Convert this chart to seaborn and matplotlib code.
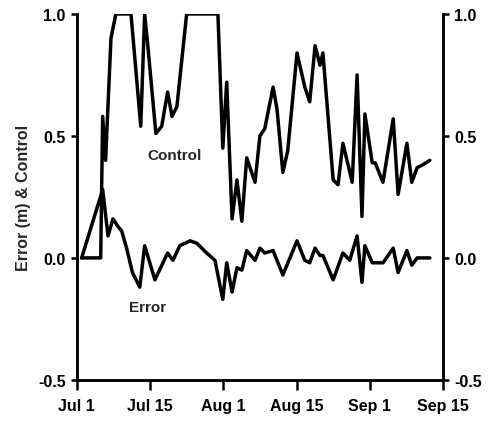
import matplotlib
matplotlib.use("Agg")
import matplotlib.pyplot as plt
import seaborn as sns

sns.set_style("ticks")
plt.rcParams["font.family"] = ["Liberation Sans", "DejaVu Sans"]

# Days since Jul 1 and the daily control signal (0..1)
control_day = [1.0, 4.9, 5.3, 5.9, 7.0, 8.0, 11.1, 13.1, 13.9, 14.5, 16.2, 17.4,
               18.6, 19.5, 20.5, 22.5, 28.9, 29.9, 30.7, 31.8, 32.8, 33.8, 34.8,
               36.5, 37.5, 38.5, 40.2, 41.0, 42.2, 43.2, 45.1, 46.7, 47.7, 48.8,
               49.8, 50.4, 52.5, 53.5, 54.5, 56.4, 57.4, 58.4, 59.0, 60.5, 61.1,
               62.7, 64.8, 65.8, 67.6, 68.6, 69.7, 70.7, 72.3]
control_val = [0.0, 0.0, 0.58, 0.40, 0.90, 1.0, 1.0, 0.54, 1.0, 0.88, 0.51, 0.54,
               0.68, 0.58, 0.62, 1.0, 1.0, 0.45, 0.72, 0.16, 0.32, 0.15, 0.41,
               0.31, 0.50, 0.53, 0.70, 0.61, 0.35, 0.44, 0.84, 0.70, 0.64, 0.87,
               0.79, 0.84, 0.32, 0.30, 0.47, 0.31, 0.75, 0.17, 0.59, 0.39, 0.39,
               0.31, 0.57, 0.26, 0.47, 0.31, 0.37, 0.38, 0.40]

# Days since Jul 1 and the tracking error (m)
error_day = [1.0, 5.3, 6.4, 7.4, 8.4, 9.2, 10.2, 11.4, 12.9, 13.9, 16.0, 18.6,
             19.7, 21.1, 23.2, 24.6, 26.6, 28.3, 29.9, 30.7, 31.8, 32.8, 33.8,
             34.8, 36.5, 37.5, 38.5, 40.2, 42.2, 45.1, 46.7, 47.7, 48.8, 49.8,
             50.4, 52.5, 54.5, 55.9, 57.4, 58.4, 59.0, 60.5, 62.7, 64.8, 65.8,
             67.6, 68.6, 69.7, 72.3]
error_val = [0.0, 0.28, 0.09, 0.16, 0.13, 0.11, 0.04, -0.06, -0.12, 0.05, -0.09,
             0.02, -0.01, 0.05, 0.07, 0.06, 0.02, -0.01, -0.17, -0.02, -0.14,
             -0.04, -0.05, 0.03, -0.01, 0.04, 0.02, 0.03, -0.07, 0.07, -0.01,
             -0.02, 0.04, 0.01, 0.01, -0.09, 0.02, -0.01, 0.09, -0.10, 0.05,
             -0.02, -0.02, 0.04, -0.06, 0.03, -0.03, 0.0, 0.0]

x_ticks = [0, 15, 30, 45, 60, 75]
x_labels = ["Jul 1", "Jul 15", "Aug 1", "Aug 15", "Sep 1", "Sep 15"]
y_ticks = [-0.5, 0.0, 0.5, 1.0]
y_labels = ["-0.5", "0.0", "0.5", "1.0"]

fig = plt.figure(figsize=(4.89, 4.27), dpi=100)
ax = fig.add_axes([0.157, 0.108, 0.749, 0.857])

line_kw = dict(color="black", linewidth=2.5, solid_joinstyle="round",
               solid_capstyle="round", estimator=None, sort=False)
sns.lineplot(x=control_day, y=control_val, ax=ax, **line_kw)
sns.lineplot(x=error_day, y=error_val, ax=ax, **line_kw)

ax.set_xlim(0, 75)
ax.set_ylim(-0.5, 1.0)
ax.set_xticks(x_ticks)
ax.set_xticklabels(x_labels)
ax.set_yticks(y_ticks)
ax.set_yticklabels(y_labels)
ax.set_ylabel("Error (m) & Control", fontsize=11.5, fontweight="bold", labelpad=5)

ax2 = ax.twinx()
ax2.set_ylim(-0.5, 1.0)
ax2.set_yticks(y_ticks)
ax2.set_yticklabels(y_labels)

for a in (ax, ax2):
    a.spines["top"].set_visible(False)
    for s in ("left", "right", "bottom"):
        a.spines[s].set_linewidth(1.8)
        a.spines[s].set_color("black")
    a.tick_params(axis="y", direction="out", length=4, width=1.8, labelsize=11.5,
                  colors="black", pad=4)
    a.tick_params(axis="x", direction="out", length=7, width=1.8, labelsize=11.5,
                  colors="black", pad=6)
    for lab in a.get_xticklabels() + a.get_yticklabels():
        lab.set_fontweight("bold")

ax.text(20, 0.42, "Control", fontsize=11, fontweight="bold", ha="center", va="center")
ax.text(14.5, -0.20, "Error", fontsize=11, fontweight="bold", ha="center", va="center")

fig.savefig("out.png", dpi=100)
